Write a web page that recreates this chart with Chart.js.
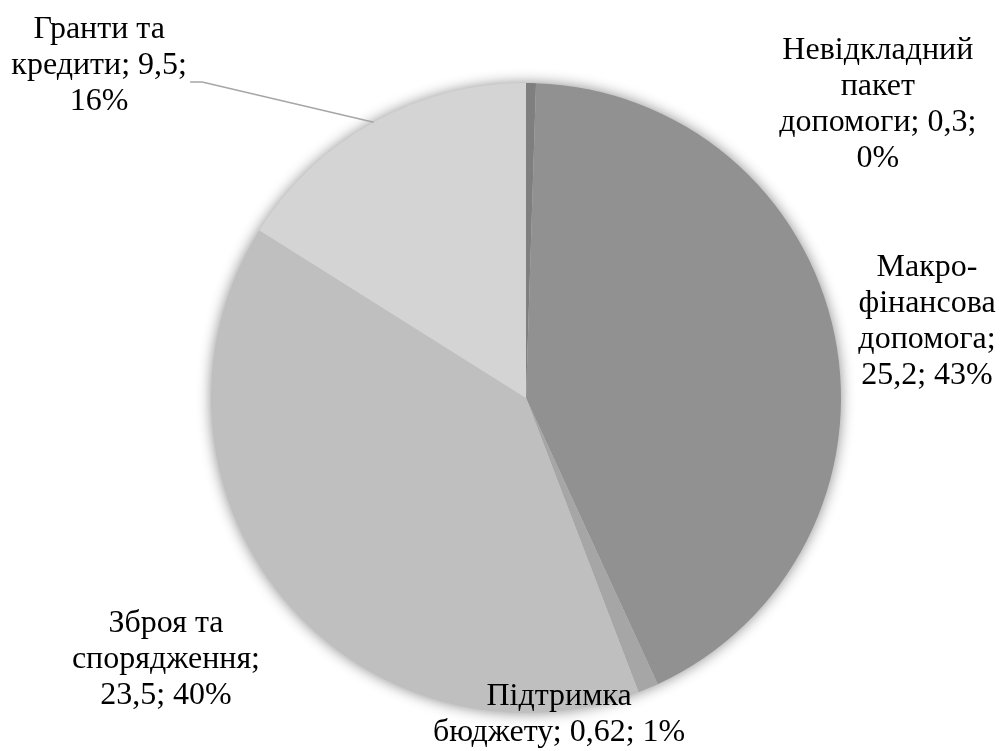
<!DOCTYPE html>
<html>
<head>
<meta charset="utf-8">
<script src="https://cdn.jsdelivr.net/npm/chart.js@4.4.1/dist/chart.umd.min.js"></script>
<style>
  body { margin: 0; background: #fff; }
  #wrap { width: 1002px; height: 751px; }
</style>
</head>
<body>
<div id="wrap"><canvas id="myChart" width="1002" height="751"></canvas></div>
<script>
// data
const categories = ['Невідкладний пакет допомоги', 'Макро-фінансова допомога', 'Підтримка бюджету', 'Зброя та спорядження', 'Гранти та кредити'];
const values = [0.3, 25.2, 0.62, 23.5, 9.5];
const valueText = ['0,3', '25,2', '0,62', '23,5', '9,5'];
const percentText = ['0%', '43%', '1%', '40%', '16%'];
const colors = ['#7f7f7f', '#919191', '#a6a6a6', '#bfbfbf', '#d4d4d4'];

// label lines as they wrap in the original
const labelLines = [
    ['Невідкладний', 'пакет', 'допомоги; ' + valueText[0] + ';', percentText[0]],
    ['Макро-', 'фінансова', 'допомога;', valueText[1] + '; ' + percentText[1]],
    ['Підтримка', 'бюджету; ' + valueText[2] + '; ' + percentText[2]],
    ['Зброя та', 'спорядження;', valueText[3] + '; ' + percentText[3]],
    ['Гранти та', 'кредити; ' + valueText[4] + ';', percentText[4]]
];

// shadow circle under the pie
const shadowPlugin = {
    id: 'pieShadow',
    beforeDatasetsDraw(chart) {
        const arc = chart.getDatasetMeta(0).data[0];
        const ctx = chart.ctx;
        ctx.save();
        ctx.shadowColor = 'rgba(0,0,0,0.45)';
        ctx.shadowBlur = 14;
        ctx.fillStyle = '#cccccc';
        ctx.beginPath();
        ctx.arc(arc.x, arc.y, arc.outerRadius, 0, Math.PI * 2);
        ctx.fill();
        ctx.restore();
    }
};

// where each label block sits, relative to pie center in radius units
const labelSpots = [
    { dx: 1.117, dy: -0.93 },
    { dx: 1.273, dy: -0.241 },
    { dx: 0.105, dy: 1.006 },
    { dx: -1.143, dy: 0.829 },
    { dx: -1.355, dy: -1.054 }
];

const labelPlugin = {
    id: 'pieLabels',
    afterDatasetsDraw(chart) {
        const ctx = chart.ctx;
        const meta = chart.getDatasetMeta(0);
        const first = meta.data[0];
        const cx = first.x, cy = first.y, r = first.outerRadius;
        const lh = 36;
        ctx.save();
        ctx.font = '32px "Liberation Serif", "Times New Roman", serif';
        ctx.fillStyle = '#000';
        ctx.textBaseline = 'middle';
        ctx.textAlign = 'center';
        labelLines.forEach((lines, i) => {
            const s = labelSpots[i];
            const x = cx + s.dx * r;
            const y0 = cy + s.dy * r - (lines.length - 1) * lh / 2;
            lines.forEach((t, j) => {
                ctx.fillText(t, x, y0 + j * lh);
            });
        });

        // leader line for the grants slice
        const a = meta.data[4];
        const mid = (a.startAngle + a.endAngle) / 2;
        const ex = a.x + Math.cos(mid) * a.outerRadius;
        const ey = a.y + Math.sin(mid) * a.outerRadius;
        const s = labelSpots[4];
        const lx = cx + s.dx * r + 91;
        const ly = cy + s.dy * r + 16;
        ctx.strokeStyle = '#a6a6a6';
        ctx.lineWidth = 1.5;
        ctx.beginPath();
        ctx.moveTo(lx, ly);
        ctx.lineTo(lx + 12, ly);
        ctx.lineTo(ex, ey);
        ctx.stroke();
        ctx.restore();
    }
};

const ctx = document.getElementById('myChart').getContext('2d');
const myChart = new Chart(ctx, {
    type: 'pie',
    data: {
        labels: categories,
        datasets: [{
            data: values,
            backgroundColor: colors,
            borderWidth: 0
        }]
    },
    options: {
        responsive: false,
        animation: false,
        layout: {
            padding: { top: 83, bottom: 38, left: 150, right: 100 }
        },
        plugins: {
            legend: { display: false },
            tooltip: { enabled: false }
        }
    },
    plugins: [shadowPlugin, labelPlugin]
});
</script>
</body>
</html>
